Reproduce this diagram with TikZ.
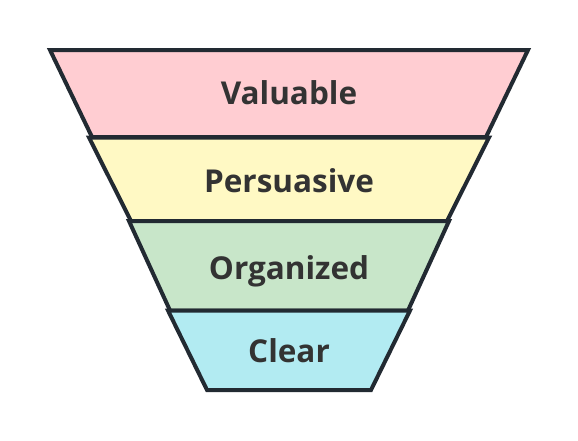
\documentclass[tikz,border=0pt]{standalone}
\usepackage{fontspec}
\setmainfont{Open Sans}
\definecolor{valuablefill}{HTML}{FFCDD2}
\definecolor{persuasivefill}{HTML}{FFF9C4}
\definecolor{organizedfill}{HTML}{C8E6C9}
\definecolor{clearfill}{HTML}{B2EBF2}
\definecolor{edge}{HTML}{222A32}
\definecolor{ink}{HTML}{333333}

\begin{document}
\begin{tikzpicture}[x = 1pt, y = -1pt,
  band/.style = {fill = #1, draw = edge, line width = 4pt},
  word/.style = {text = ink, font = \fontsize{31.5}{38}\selectfont\bfseries, anchor = base}]
\useasboundingbox (0,0) rectangle (578,440);
% funnel, top to bottom
\draw [band = valuablefill] (50,50) -- (528,50) -- (486,137) -- (92,137) -- cycle;
\draw [band = persuasivefill] (89,137.5) -- (489,137.5) -- (447,221) -- (131,221) -- cycle;
\draw [band = organizedfill] (129,221) -- (449,221) -- (408,310.5) -- (170,310.5) -- cycle;
\draw [band = clearfill] (168,310.5) -- (410,310.5) -- (371,390) -- (207,390) -- cycle;
% texts
\node [word] (valuable) at (289,104) {Valuable};
\node [word] (persuasive) at (289,192) {Persuasive};
\node [word] (organized) at (289,279) {Organized};
\node [word] (clear) at (289,362) {Clear};
\end{tikzpicture}
\end{document}
